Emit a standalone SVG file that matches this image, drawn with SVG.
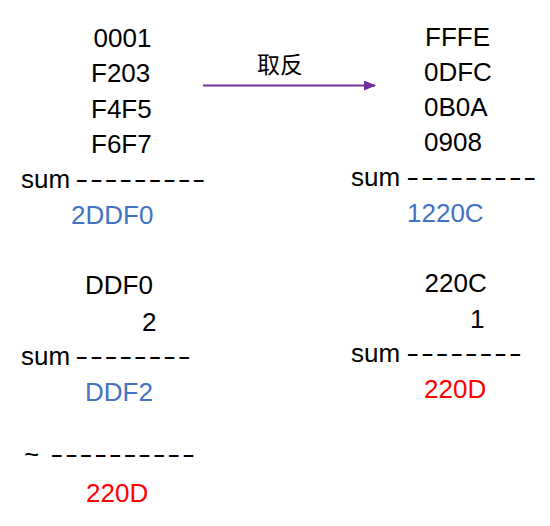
<svg xmlns="http://www.w3.org/2000/svg" width="550" height="526" viewBox="0 0 550 526">
<style>
text{font-family:"Liberation Sans","Noto Sans CJK SC",Arial,sans-serif;font-size:26px;fill:#000}
.b{fill:#4472C4}
.r{fill:#FF0000}
.d{letter-spacing:1.1px}
.cj{font-family:"Noto Sans CJK SC","Noto Sans CJK TC",sans-serif;font-size:23px}
</style>
<defs>
<marker id="ah" markerWidth="12" markerHeight="10" refX="11" refY="5" orient="auto" markerUnits="userSpaceOnUse">
<path d="M0,0 L12,5 L0,10 Z" fill="#7030A0"/>
</marker>
</defs>
<rect width="550" height="526" fill="#fff"/>
<g id="left-top">
<text x="93.5" y="47">0001</text>
<text x="91" y="82">F203</text>
<text x="91" y="118">F4F5</text>
<text x="91" y="153">F6F7</text>
<text x="21" y="188">sum</text>
<text class="d" transform="translate(75.3,188) scale(1.5,1)">---------</text>
<text class="b" x="71" y="224">2DDF0</text>
</g>
<g id="right-top">
<text x="425" y="46">FFFE</text>
<text x="424" y="81">0DFC</text>
<text x="424" y="116">0B0A</text>
<text x="424" y="151">0908</text>
<text x="351" y="186">sum</text>
<text class="d" transform="translate(406.3,186) scale(1.5,1)">---------</text>
<text class="b" x="407" y="222">1220C</text>
</g>
<g id="left-bottom">
<text x="85" y="294">DDF0</text>
<text x="142" y="331">2</text>
<text x="21" y="365">sum</text>
<text class="d" transform="translate(75.3,365) scale(1.5,1)">--------</text>
<text class="b" x="85" y="401">DDF2</text>
<text x="24" y="463">~</text>
<text class="d" transform="translate(50.3,463) scale(1.5,1)">----------</text>
<text class="r" x="86" y="502">220D</text>
</g>
<g id="right-bottom">
<text x="424.5" y="292">220C</text>
<text x="470" y="328">1</text>
<text x="351" y="362">sum</text>
<text class="d" transform="translate(406.3,362) scale(1.5,1)">--------</text>
<text class="r" x="424" y="398">220D</text>
</g>
<g id="connectors">
<line x1="203" y1="85.5" x2="375" y2="85.5" stroke="#7030A0" stroke-width="2.2" marker-end="url(#ah)"/>
<text class="cj" x="257" y="73">取反</text>
</g>
</svg>
